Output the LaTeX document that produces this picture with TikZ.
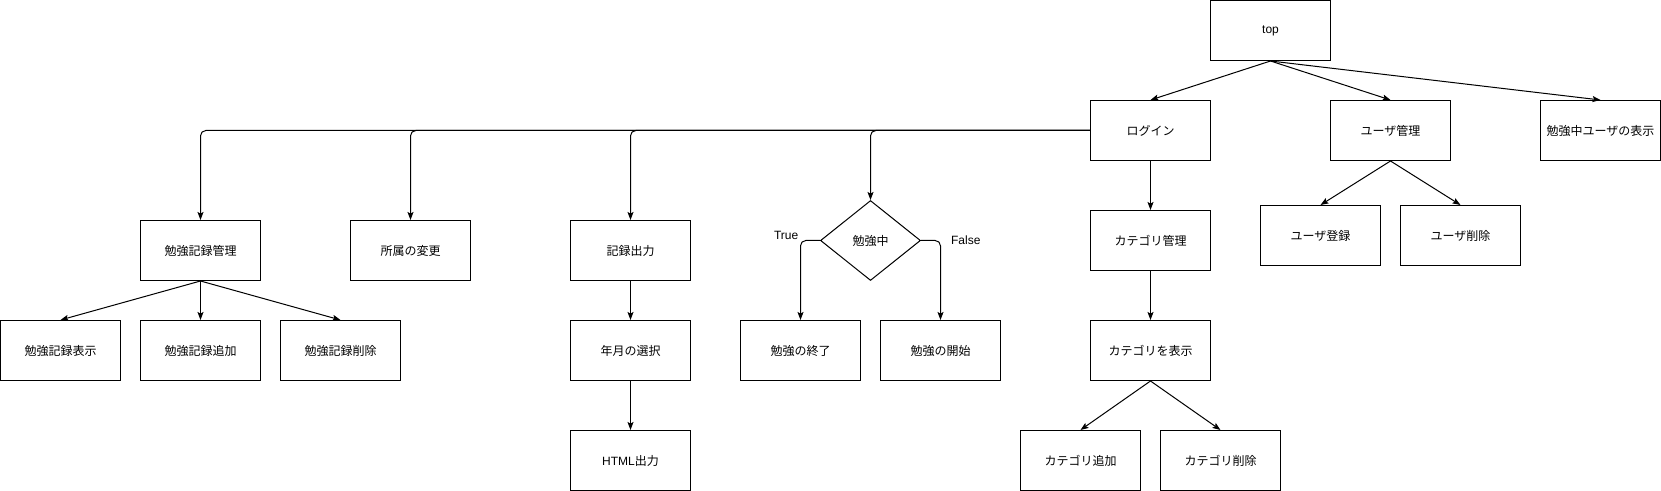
\documentclass[tikz,border=0pt]{standalone}
\usepackage{fontspec}
\setmainfont{Noto Sans CJK JP}
\newfontfamily\lat{Liberation Sans}
\usetikzlibrary{arrows.meta,shapes.geometric}
\begin{document}
\begin{tikzpicture}[x=0.75pt,y=-0.75pt,
  box/.style={draw, line width=0.75pt, minimum width=90pt, minimum height=45pt, inner sep=0pt, font=\fontsize{9pt}{11pt}\selectfont},
  dec/.style={draw, diamond, line width=0.75pt, minimum width=75pt, minimum height=60pt, inner sep=0pt, font=\fontsize{9pt}{11pt}\selectfont},
  arr/.style={draw, line width=0.75pt, -{Stealth[length=6pt,width=4.5pt,inset=1.2pt]}},
  bus/.style={arr, rounded corners=4pt},
  lbl/.style={font=\lat\fontsize{9pt}{11pt}\selectfont, inner sep=0pt}]
\useasboundingbox (-0.5,-0.5) rectangle (1660.5,490.5);
% nodes
\node[box] (top) at (1270,30) {\lat top};
\node[box] (login) at (1150,130) {ログイン};
\node[box] (ukanri) at (1390,130) {ユーザ管理};
\node[box] (studying) at (1600,130) {勉強中ユーザの表示};
\node[box] (ureg) at (1320,235) {ユーザ登録};
\node[box] (udel) at (1460,235) {ユーザ削除};
\node[box] (ckanri) at (1150,240) {カテゴリ管理};
\node[box] (cshow) at (1150,350) {カテゴリを表示};
\node[box] (cadd) at (1080,460) {カテゴリ追加};
\node[box] (cdel) at (1220,460) {カテゴリ削除};
\node[box] (skanri) at (200,250) {勉強記録管理};
\node[box] (shozoku) at (410,250) {所属の変更};
\node[box] (kiroku) at (630,250) {記録出力};
\node[box] (nengetsu) at (630,350) {年月の選択};
\node[box] (html) at (630,460) {{\lat HTML}出力};
\node[dec] (dia) at (870,240) {勉強中};
\node[box] (end) at (800,350) {勉強の終了};
\node[box] (start) at (940,350) {勉強の開始};
\node[box] (sshow) at (60,350) {勉強記録表示};
\node[box] (sadd) at (200,350) {勉強記録追加};
\node[box] (sdel) at (340,350) {勉強記録削除};
\node[lbl] (ltrue) at (785.7,235) {True};
\node[lbl] (lfalse) at (965.3,240) {False};
% edges
\draw[arr] (top.south) -- (login.north);
\draw[arr] (top.south) -- (ukanri.north);
\draw[arr] (top.south) -- (studying.north);
\draw[arr] (ukanri.south) -- (ureg.north);
\draw[arr] (ukanri.south) -- (udel.north);
\draw[arr] (login.south) -- (ckanri.north);
\draw[arr] (ckanri.south) -- (cshow.north);
\draw[arr] (cshow.south) -- (cadd.north);
\draw[arr] (cshow.south) -- (cdel.north);
\draw[bus] (login.west) -| (skanri.north);
\draw[bus] (login.west) -| (shozoku.north);
\draw[bus] (login.west) -| (kiroku.north);
\draw[bus] (login.west) -| (dia.north);
\draw[arr] (skanri.south) -- (sshow.north);
\draw[arr] (skanri.south) -- (sadd.north);
\draw[arr] (skanri.south) -- (sdel.north);
\draw[arr] (kiroku.south) -- (nengetsu.north);
\draw[arr] (nengetsu.south) -- (html.north);
\draw[bus] (dia.west) -| (end.north);
\draw[bus] (dia.east) -| (start.north);
\end{tikzpicture}
\end{document}
